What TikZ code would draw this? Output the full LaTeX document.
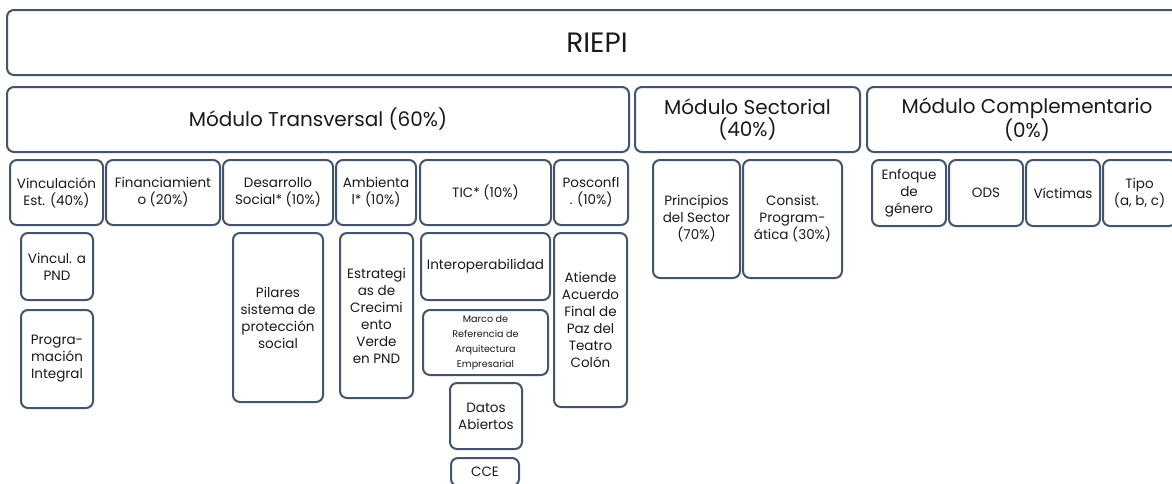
\documentclass[tikz,border=0pt]{standalone}
\usepackage{fontspec}
\setmainfont{Poppins}
\definecolor{edge}{HTML}{44546A}
\definecolor{ink}{HTML}{1A1A1A}
\tikzset{
  box/.style={draw=edge, line width=2pt, rounded corners=7pt, fill=white, align=center,
    text=ink, inner sep=0pt, outer sep=0pt},
  subfont/.style={font=\fontsize{13.5}{17}\selectfont},
  modfont/.style={font=\fontsize{20}{22}\selectfont},
  tinyfont/.style={font=\fontsize{9.6}{15}\selectfont},
}
\newcommand{\bx}[7][subfont]{%
  \node[box,#1,minimum width={(#5-#3)*1pt},minimum height={(#6-#4)*1pt}]
    (#2) at ({(#3+#5)/2},{(#4+#6)/2}) {#7};}
\begin{document}
\begin{tikzpicture}[x=1pt,y=-1pt]
\clip (0,0) rectangle (1172,483);
\fill[white] (0,0) rectangle (1172,483);
% top
\bx[font=\fontsize{28}{30}\selectfont]{riepi}{7}{10}{1187}{75}{RIEPI}
% modules
\bx[modfont]{mt}{7}{87}{629}{152}{Módulo Transversal (60\%)}
\bx[modfont]{ms}{635}{87}{860}{152}{Módulo Sectorial\\(40\%)}
\bx[modfont]{mc}{867}{87}{1187}{152}{Módulo Complementario\\(0\%)}
% row 1
\bx{ve}{10}{160}{103}{225}{Vinculación\\Est. (40\%)}
\bx{fi}{106}{160}{220}{225}{Financiamient\\o (20\%)}
\bx{ds}{223}{160}{333}{225}{Desarrollo\\Social* (10\%)}
\bx{am}{336}{160}{416}{225}{Ambienta\\l* (10\%)}
\bx{tic}{420}{160}{551}{225}{TIC* (10\%)}
\bx{po}{554}{160}{628}{225}{Posconfl\\. (10\%)}
\bx{pr}{653}{160}{740}{278}{Principios\\del Sector\\(70\%)}
\bx{cp}{743}{160}{842}{278}{Consist.\\Program-\\ática (30\%)}
\bx{eg}{872}{160}{946}{226}{Enfoque\\de\\género}
\bx{ods}{949}{160}{1023}{226}{ODS}
\bx{vi}{1026}{160}{1100}{226}{Víctimas}
\bx{ti}{1103}{160}{1176}{226}{Tipo\\(a, b, c)}
% row 2
\bx{vp}{21}{233}{93}{300}{Vincul. a\\PND}
\bx{pi}{21}{310}{93}{408}{Progra-\\mación\\Integral}
\bx{ps}{233}{233}{323}{402}{Pilares\\sistema de\\protección\\social}
\bx{es}{340}{233}{413}{398}{Estrategi\\as de\\Crecimi\\ento\\Verde\\en PND}
\bx{in}{421}{233}{550}{300}{Interoperabilidad}
\bx[tinyfont]{mr}{423}{310}{548}{375}{Marco de\\Referencia de\\Arquitectura\\Empresarial}
\bx{da}{450}{383}{522}{449}{Datos\\Abiertos}
\bx{cce}{451}{458}{519}{486}{CCE}
\bx{at}{554}{233}{627}{407}{Atiende\\Acuerdo\\Final de\\Paz del\\Teatro\\Colón}
\end{tikzpicture}
\end{document}
